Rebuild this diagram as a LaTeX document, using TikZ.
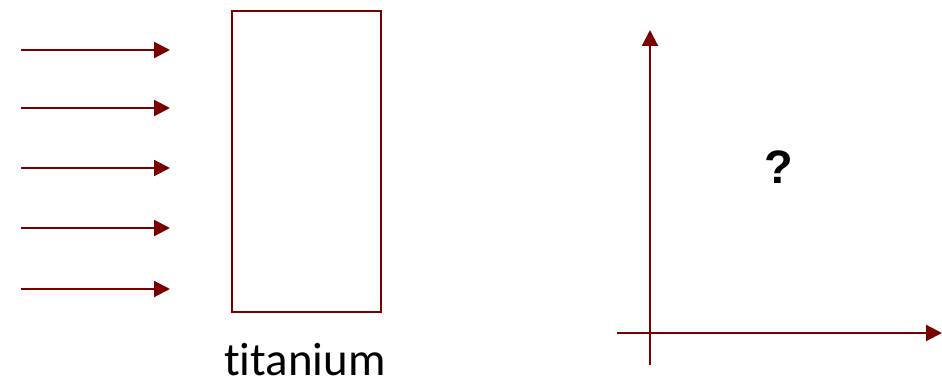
\documentclass[tikz,border=0pt]{standalone}
\usepackage{fontspec}
\setmainfont{Carlito}[Ligatures=NoCommon]
\newfontfamily\qfont{Liberation Sans}
\usetikzlibrary{arrows.meta}
\definecolor{darkred}{RGB}{122,0,0}

\begin{document}
\begin{tikzpicture}[x=0.03cm,y=-0.03cm,
    ray/.style={darkred,line width=1.8pt,-{Triangle[length=13.6pt,width=13.6pt]}}]
        \useasboundingbox (0,0) rectangle (942,384);
        % incoming beam
        \foreach \y in {50,108,168,228,289}
            \draw[ray] (21,\y) -- (170,\y);
        % the titanium sample
        \draw[darkred,line width=1.8pt] (232,11) rectangle (381,312);
        \node[anchor=base,inner sep=0pt,font=\fontsize{40}{48}\selectfont] (metal) at (305,375) {titanium};
        % axes
        \draw[ray] (650,365) -- (650,30);
        \draw[ray] (617,333) -- (942,333);
        \node[anchor=base,inner sep=0pt,font=\qfont\bfseries\fontsize{40}{48}\selectfont] (unknown) at (779,183) {?};
    \end{tikzpicture}
\end{document}
